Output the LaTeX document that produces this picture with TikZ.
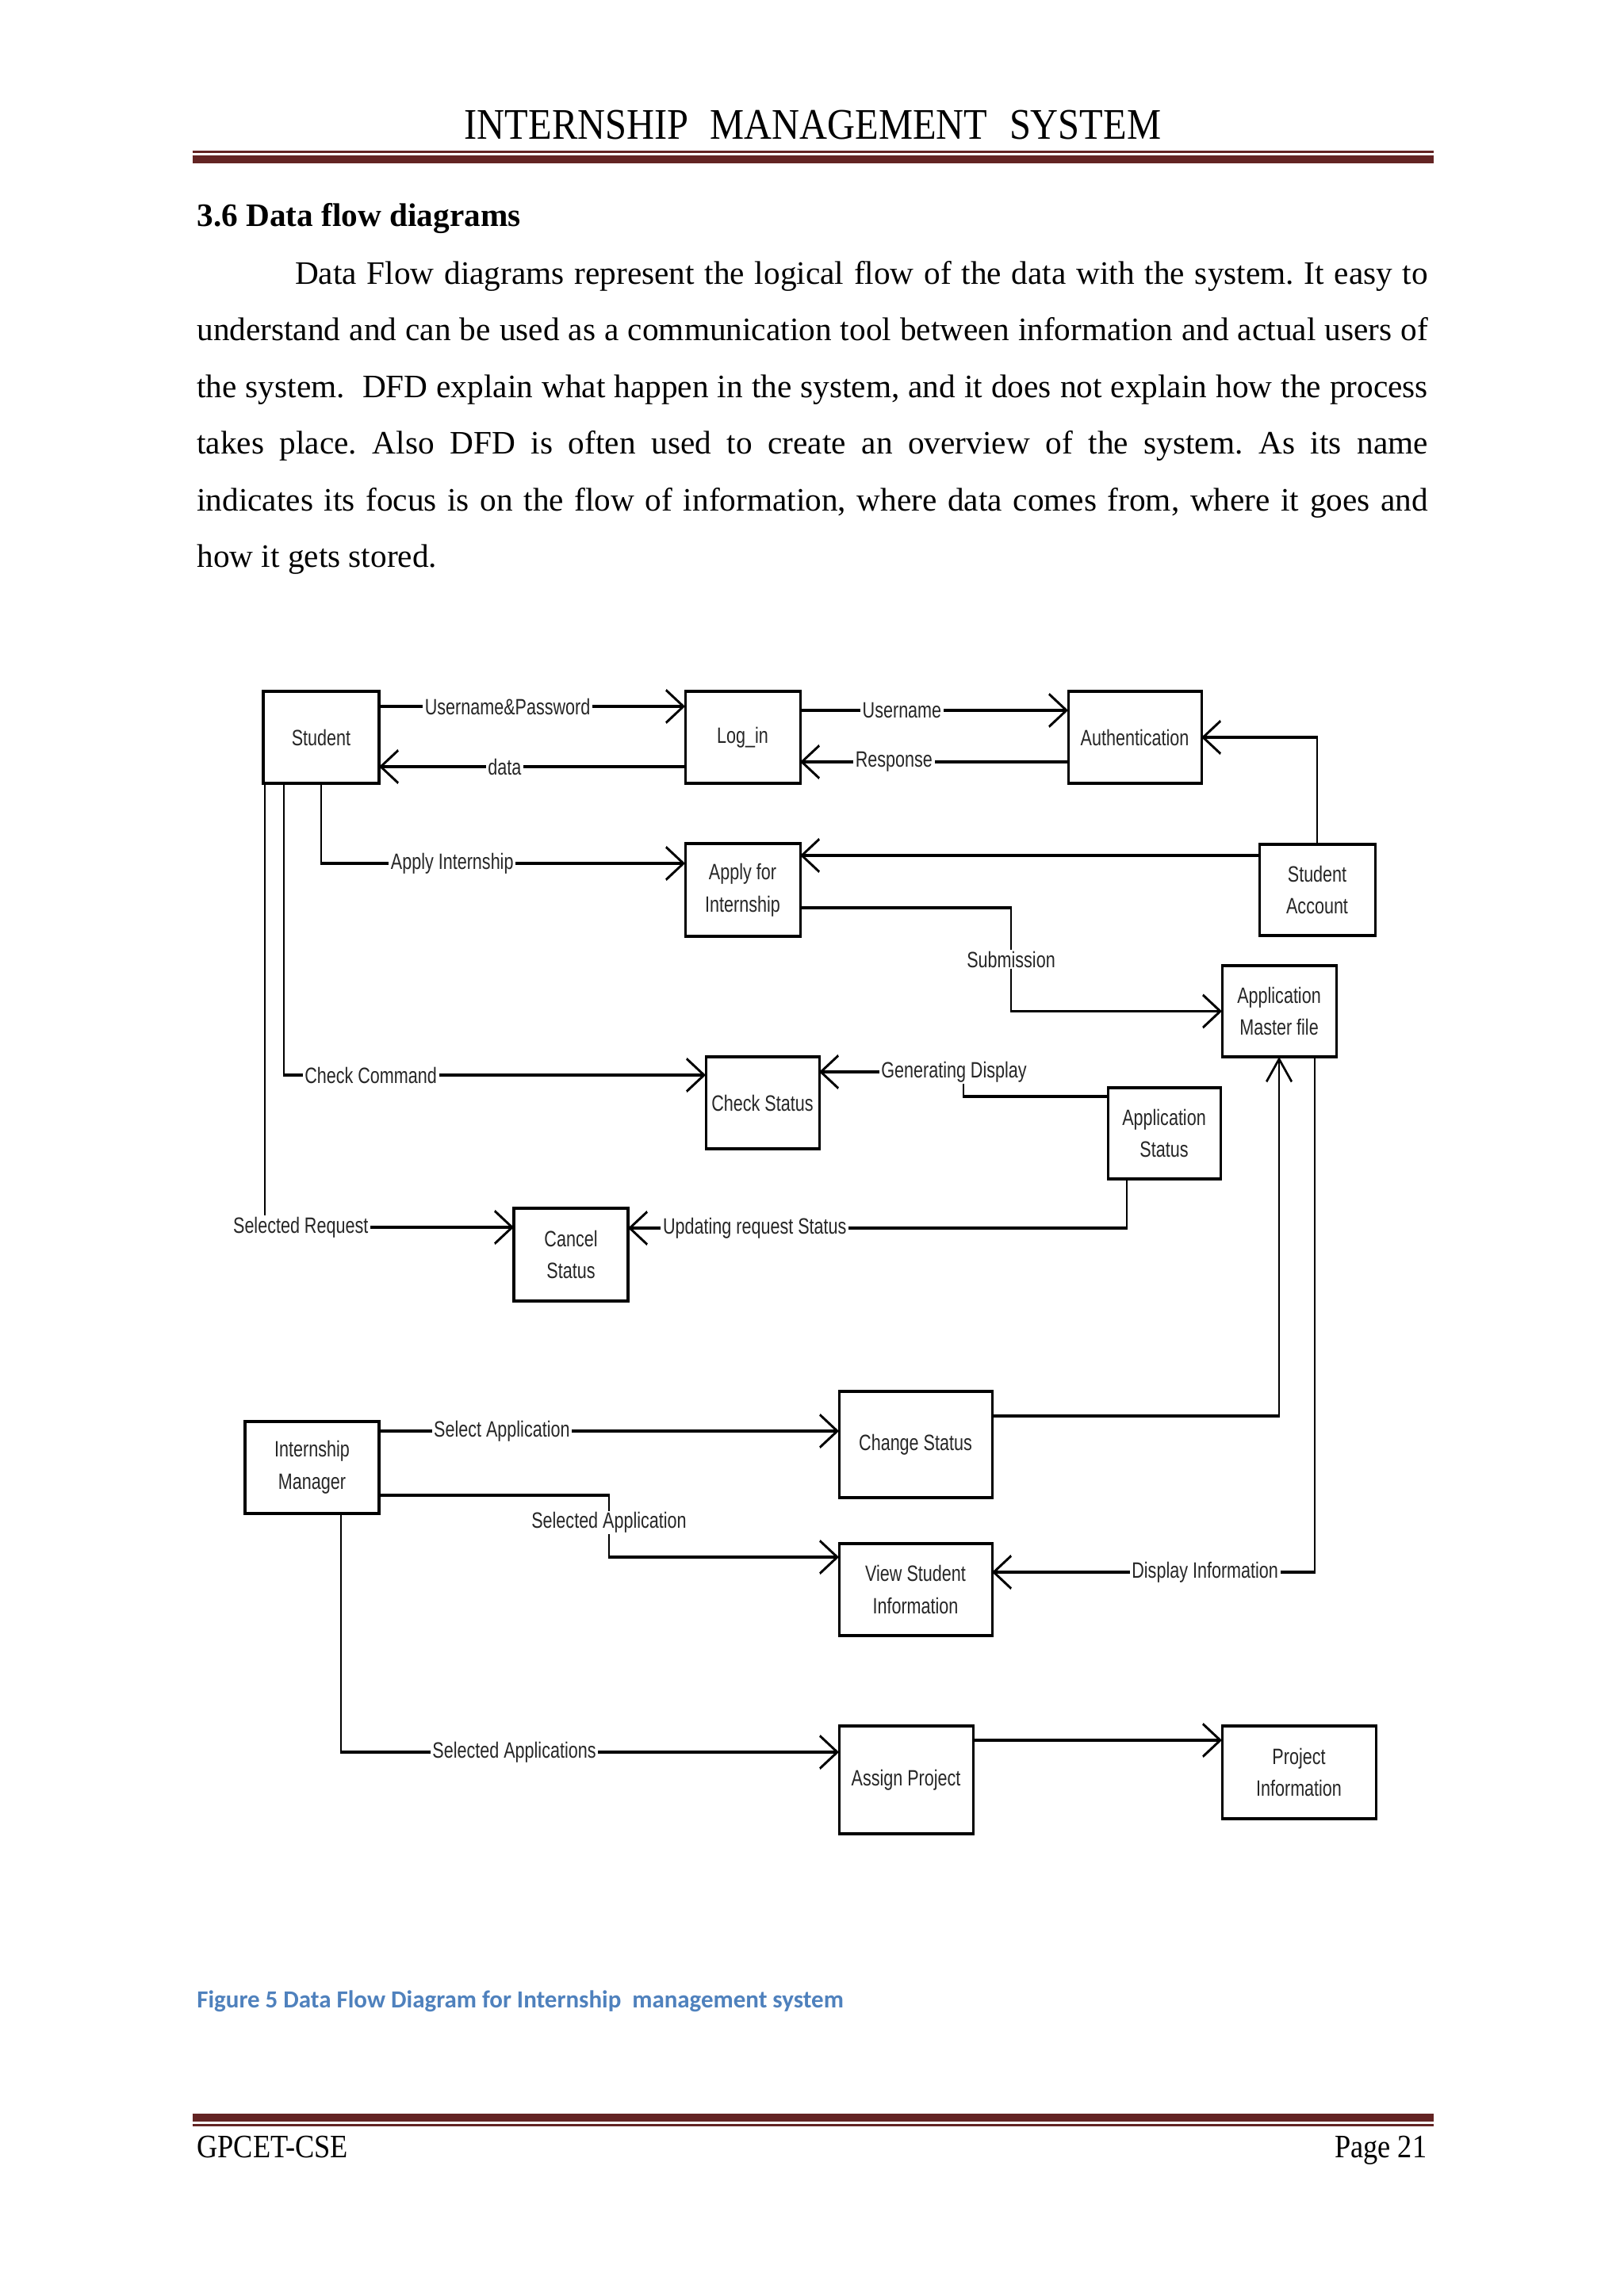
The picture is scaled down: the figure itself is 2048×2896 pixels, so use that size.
\documentclass[tikz,border=0pt]{standalone}
\usepackage{fontspec}
\setmainfont{Liberation Serif}
\newfontfamily\dfdfont{Liberation Sans}
\newfontfamily\hdrfont[FakeStretch=0.88]{Liberation Serif}
\newfontfamily\capfont{Carlito}
\usetikzlibrary{arrows.meta}
\definecolor{rulered}{RGB}{99,36,35}
\definecolor{capblue}{RGB}{79,129,189}
\def\pxu{0.2907pt}
\def\pxx{0.37753pt}
\newcommand\dbox[6]{\node[box, minimum width={(#4-#2)*\pxx}, minimum height={(#5-#3)*\pxu}] (#1) at ({(#2+#4)/2},{(#3+#5)/2}) {#6};}
\begin{document}
\begin{tikzpicture}[x=\pxu,y=-\pxu,
  dfd/.style={font=\dfdfont\fontsize{8.14pt}{11.8pt}\selectfont, text=black!85},
  box/.style={dfd, draw, line width=1.15pt, outer sep=0pt, inner sep=0pt, align=center},
  lab/.style={dfd, fill=white, inner xsep=1pt, inner ysep=0.5pt},
  conn/.style={line width=0.95pt},
  flow/.style={conn, -{Straight Barb[length=8.3pt, width=12pt]}},
  body/.style={anchor=base west, inner sep=0pt, font=\frenchspacing\fontsize{12pt}{14pt}\selectfont},
  hdr/.style={inner sep=0pt, font=\hdrfont\fontsize{12pt}{14pt}\selectfont},
  rulethin/.style={rulered, line width=0.87pt},
  rulethick/.style={rulered, line width=2.9pt}
]
\fill[white] (0,0) rectangle (2048,2896);
\useasboundingbox (0,0) rectangle (2048,2896);

% header
\node[hdr, anchor=base, font=\hdrfont\fontsize{16pt}{19pt}\selectfont] (title) at (1025,175) {INTERNSHIP\hspace{0.5em}MANAGEMENT\hspace{0.5em}SYSTEM};
\draw[rulethin] (242.7,191.8) -- (1808,191.8);
\draw[rulethick] (242.7,200.7) -- (1808,200.7);

% heading and body text
\node[body, font=\bfseries\fontsize{12pt}{14pt}\selectfont] (heading) at (247.7,285) {3.6 Data flow diagrams};
\node[body] (p1) at (371.5,358) {\makebox[415.3pt][s]{Data Flow diagrams represent the logical flow of the data with the system. It easy to}};
\node[body] (p2) at (247.7,429.5) {\makebox[451.3pt][s]{understand and can be used as a communication tool between information and actual users of}};
\node[body] (p3) at (247.7,501) {\makebox[451.3pt][s]{the system.\ \ DFD explain what happen in the system, and it does not explain how the process}};
\node[body] (p4) at (247.7,572.5) {\makebox[451.3pt][s]{takes place. Also DFD is often used to create an overview of the system. As its name}};
\node[body] (p5) at (247.7,644) {\makebox[451.3pt][s]{indicates its focus is on the flow of information, where data comes from, where it goes and}};
\node[body] (p6) at (247.7,715.5) {how it gets stored.};

% diagram
\begin{scope}[x=\pxx, transform canvas={xscale=0.77}]
\dbox{student}{332}{872}{478}{988}{Student}
\dbox{login}{864}{872}{1009}{988}{Log\_in}
\dbox{auth}{1347}{872}{1515}{988}{Authentication}
\dbox{apply}{864}{1064}{1009}{1181}{Apply for\\Internship}
\dbox{account}{1588}{1065}{1734}{1180}{Student\\Account}
\dbox{master}{1541}{1218}{1685}{1333}{Application\\Master file}
\dbox{check}{890}{1333}{1033}{1449}{Check Status}
\dbox{appstatus}{1397}{1372}{1539}{1487}{Application\\Status}
\dbox{cancel}{648}{1524}{792}{1641}{Cancel\\Status}
\dbox{manager}{309}{1793}{478}{1909}{Internship\\Manager}
\dbox{change}{1058}{1755}{1251}{1889}{Change Status}
\dbox{view}{1058}{1947}{1251}{2063}{View Student\\Information}
\dbox{assign}{1058}{2177}{1227}{2313}{Assign Project}
\dbox{project}{1541}{2177}{1735}{2294}{Project\\Information}

\draw[flow] (student.east |- 0,891) -- node[lab,pos=0.42]{Username\&Password} (login.west |- 0,891);
\draw[flow] (login.west |- 0,967) -- node[lab,pos=0.59]{data} (student.east |- 0,967);
\draw[flow] (login.east |- 0,896) -- node[lab,pos=0.38]{Username} (auth.west |- 0,896);
\draw[flow] (auth.west |- 0,961) -- node[lab,pos=0.65]{Response} (login.east |- 0,961);
\draw[flow] (account.north) |- (auth.east);
\draw[flow] (account.west |- 0,1079) -- (apply.east |- 0,1079);
\draw[flow] (student.south) |- node[lab,pos=0.68]{Apply Internship} (apply.west |- 0,1089);
\draw[flow] (apply.east |- 0,1145) -- (1275,1145) -- node[lab]{Submission} (1275,1275.5) -- (master.west);
\draw[flow] (student.south -| 358,0) |- node[lab,pos=0.603]{Check Command} (check.west |- 0,1356);
\draw[flow] (student.south -| 334,0) |- node[lab,pos=0.572]{Selected Request} (cancel.west |- 0,1548);
\draw[flow] (appstatus.west |- 0,1383) -| (1215,1352) -- (check.east |- 0,1352);
\node[lab] (gen) at (1203,1352) {Generating Display};
\draw[flow] (appstatus.south -| 1421,0) |- node[lab,pos=0.873]{Updating request Status} (cancel.east |- 0,1549);
\draw[flow] (manager.east |- 0,1805) -- node[lab,pos=0.267]{Select Application} (change.west |- 0,1805);
\draw[flow] (change.east |- 0,1786) -| (master.south -| 1613,0);
\draw[flow] (manager.east |- 0,1886) -- (768,1886) -- node[lab,pos=0.44]{Selected Application} (768,1964) -- (view.west |- 0,1964);
\draw[flow] (master.south -| 1658,0) |- node[lab,pos=0.67]{Display Information} (view.east |- 0,1983);
\draw[flow] (manager.south -| 430,0) |- node[lab,pos=0.674]{Selected Applications} (assign.west |- 0,2210);
\draw[flow] (assign.east |- 0,2195) -- (project.west |- 0,2195);
\end{scope}

% caption
\node[anchor=base west, inner sep=0pt, font=\capfont\bfseries\fontsize{9pt}{11pt}\selectfont, text=capblue] (caption) at (247.7,2532) {Figure 5 Data Flow Diagram for Internship\ \ management system};

% footer
\draw[rulethick] (242.7,2671) -- (1808,2671);
\draw[rulethin] (242.7,2680.5) -- (1808,2680.5);
\node[hdr, anchor=base west] (foot) at (247.7,2721) {GPCET-CSE};
\node[hdr, anchor=base east] (page) at (1800,2721) {Page 21};
\end{tikzpicture}
\end{document}
